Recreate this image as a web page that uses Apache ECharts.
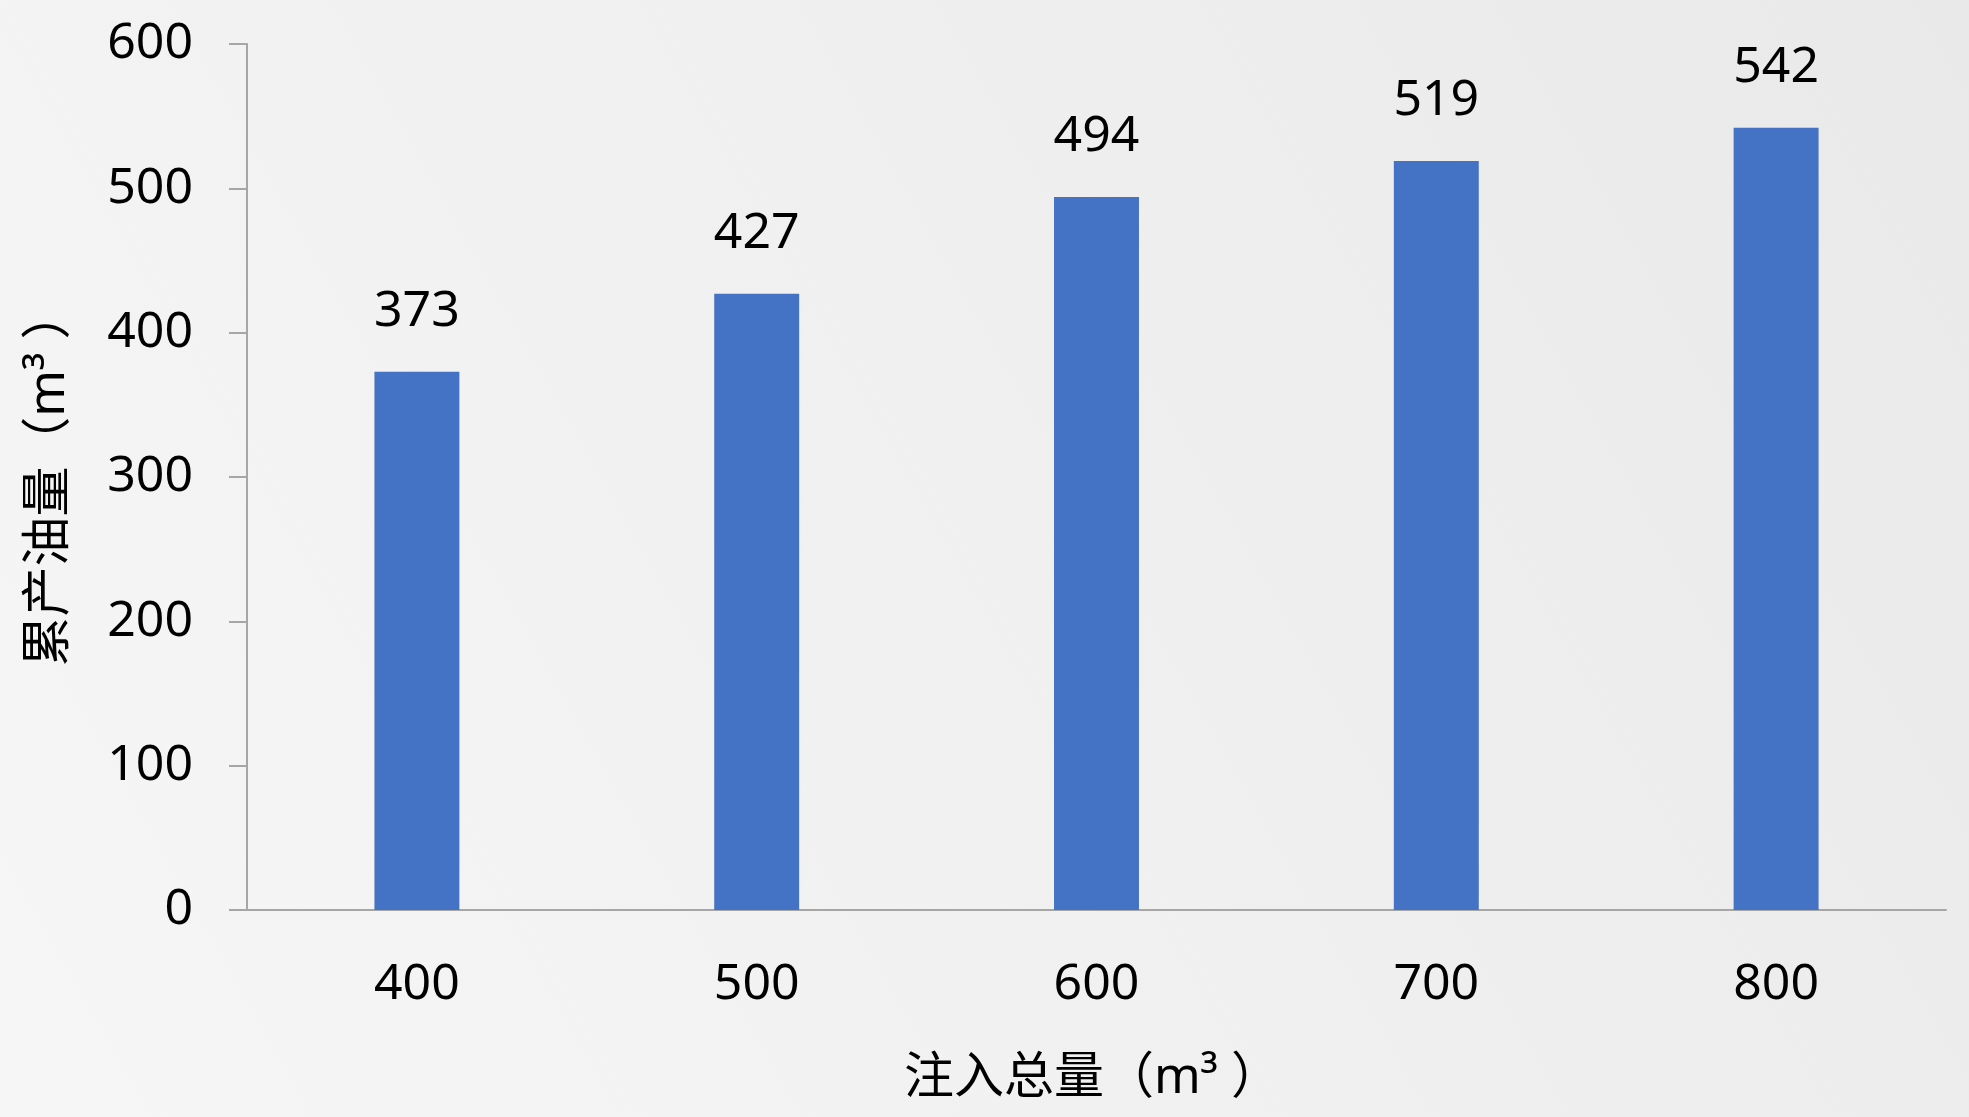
<!DOCTYPE html>
<html>
<head>
<meta charset="utf-8">
<script src="https://cdn.jsdelivr.net/npm/echarts@6/dist/echarts.min.js"></script>
<style>
  html, body { margin: 0; padding: 0; }
  #main { width: 1969px; height: 1117px; }
</style>
</head>
<body>
<div id="main"></div>
<script>
// 注入总量 categories
const categories = ["400", "500", "600", "700", "800"];
// 累产油量 values
const oilValues = [373, 427, 494, 519, 542];
// y ticks
const yMin = 0;
const yMax = 600;
const yStep = 100;

const font = '"Noto Sans", "Noto Sans CJK SC", sans-serif';
const axisGray = "#a6a6a6";

const chart = echarts.init(document.getElementById("main"));

chart.setOption({
  backgroundColor: {
    type: "linear", x: 0, y: 1, x2: 1, y2: 0,
    colorStops: [
      { offset: 0, color: "#f6f6f6" },
      { offset: 0.5, color: "#f0f0f0" },
      { offset: 1, color: "#e9e9e9" }
    ]
  },
  animation: false,
  grid: {
    left: 247,
    right: 23,
    top: 44,
    bottom: 207
  },
  xAxis: {
    type: "category",
    data: categories,
    name: "注入总量（m³ ）",
    nameLocation: "middle",
    nameGap: 144,
    nameTextStyle: { fontSize: 50, color: "#000", fontFamily: font, padding: [0, 8, 0, 0] },
    axisLine: { lineStyle: { color: axisGray, width: 2 } },
    axisTick: { show: false },
    axisLabel: { margin: 50, fontSize: 50, color: "#000", fontFamily: font }
  },
  yAxis: {
    type: "value",
    min: yMin,
    max: yMax,
    interval: yStep,
    name: "累产油量（m³ ）",
    nameLocation: "middle",
    nameGap: 172,
    nameTextStyle: { fontSize: 50, color: "#000", fontFamily: font, padding: [0, 2, 0, 0] },
    axisLine: { show: true, lineStyle: { color: axisGray, width: 2 } },
    axisTick: { show: true, length: 18, lineStyle: { color: axisGray, width: 2 } },
    splitLine: { show: false },
    axisLabel: { margin: 54, fontSize: 50, color: "#000", fontFamily: font }
  },
  series: [
    {
      type: "bar",
      data: oilValues,
      barWidth: "25%",
      itemStyle: { color: "#4472c4" },
      label: {
        show: true,
        position: "top",
        distance: 35,
        fontSize: 50,
        color: "#000",
        fontFamily: font
      }
    }
  ]
});
</script>
</body>
</html>
